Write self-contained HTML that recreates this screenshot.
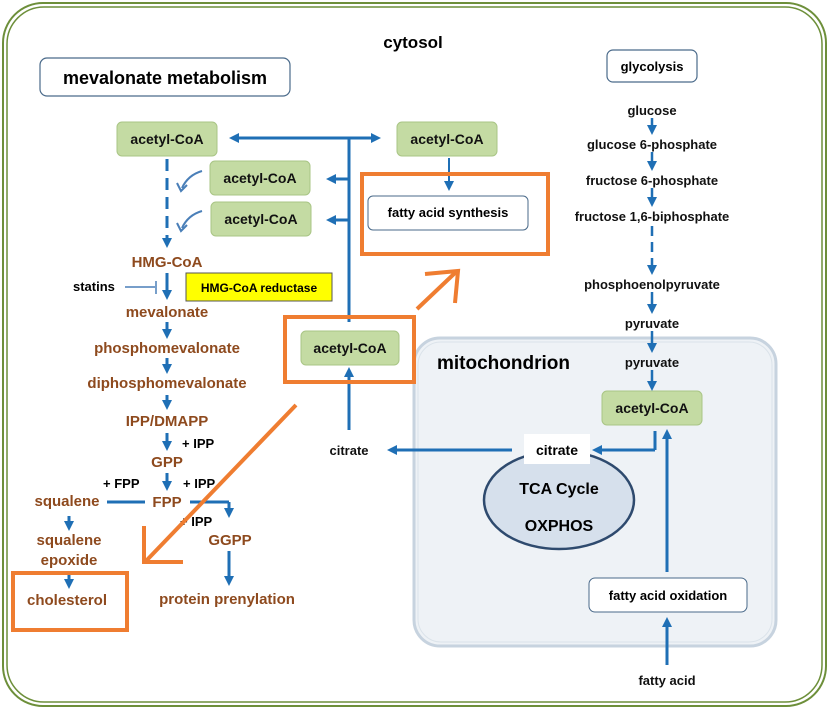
<!DOCTYPE html>
<html><head><meta charset="utf-8"><style>
body{margin:0;background:#fff}
svg text{font-family:"Liberation Sans",sans-serif;font-weight:bold}
</style></head><body>
<svg width="830" height="712" viewBox="0 0 830 712" xmlns="http://www.w3.org/2000/svg">
<defs>
<marker id="a" markerWidth="10" markerHeight="10" refX="7" refY="5" orient="auto" markerUnits="userSpaceOnUse"><path d="M0,0 L10,5 L0,10 Z" fill="#1f6fb5"/></marker>
</defs>
<rect x="3" y="3" width="823" height="703" rx="40" fill="#fff" stroke="#6d8f3a" stroke-width="2"/>
<rect x="7" y="7" width="815" height="695" rx="37" fill="none" stroke="#6d8f3a" stroke-width="1.5"/>
<text x="413" y="48" font-size="17" text-anchor="middle">cytosol</text>
<rect x="40" y="58" width="250" height="38" rx="7" fill="#fff" stroke="#4a6a8a" stroke-width="1.2"/>
<text x="165" y="84" font-size="18" text-anchor="middle">mevalonate metabolism</text>
<rect x="607" y="50" width="90" height="32" rx="6" fill="#fff" stroke="#4a6a8a" stroke-width="1.2"/>
<text x="652" y="71" font-size="13" font-weight="normal" text-anchor="middle">glycolysis</text>

<rect x="414" y="338" width="362" height="308" rx="26" fill="#eef2f6" stroke="#c7d3df" stroke-width="3"/>
<rect x="418" y="342" width="354" height="300" rx="23" fill="none" stroke="#dbe3ea" stroke-width="1"/>
<text x="437" y="369" font-size="19">mitochondrion</text>

<g fill="#c4dba3" stroke="#a9c585">
<rect x="117" y="122" width="100" height="34" rx="5"/>
<rect x="210" y="161" width="100" height="34" rx="5"/>
<rect x="211" y="202" width="100" height="34" rx="5"/>
<rect x="397" y="122" width="100" height="34" rx="5"/>
<rect x="301" y="331" width="98" height="34" rx="5"/>
<rect x="602" y="391" width="100" height="34" rx="5"/>
</g>
<g font-size="14" text-anchor="middle" fill="#111">
<text x="167" y="144">acetyl-CoA</text>
<text x="260" y="183">acetyl-CoA</text>
<text x="261" y="224">acetyl-CoA</text>
<text x="447" y="144">acetyl-CoA</text>
<text x="350" y="353">acetyl-CoA</text>
<text x="652" y="413">acetyl-CoA</text>
</g>

<rect x="368" y="196" width="160" height="34" rx="5" fill="#fff" stroke="#4a6a8a"/>
<text x="448" y="217" font-size="13" font-weight="normal" text-anchor="middle">fatty acid synthesis</text>
<rect x="186" y="273" width="146" height="28" fill="#ffff00" stroke="#555"/>
<text x="259" y="292" font-size="12" text-anchor="middle">HMG-CoA reductase</text>

<g stroke="#1f6fb5" stroke-width="3" fill="none">
<line x1="349" y1="138" x2="349" y2="322"/>
<line x1="349" y1="138" x2="232" y2="138" marker-end="url(#a)"/>
<line x1="349" y1="138" x2="378" y2="138" marker-end="url(#a)"/>
<line x1="349" y1="179" x2="329" y2="179" marker-end="url(#a)"/>
<line x1="349" y1="220" x2="329" y2="220" marker-end="url(#a)"/>
<line x1="167" y1="159" x2="167" y2="245" stroke-dasharray="12,7" marker-end="url(#a)"/>
<line x1="449" y1="158" x2="449" y2="188" stroke-width="2" marker-end="url(#a)"/>
<line x1="167" y1="273" x2="167" y2="297" marker-end="url(#a)"/>
<line x1="167" y1="322" x2="167" y2="336" marker-end="url(#a)"/>
<line x1="167" y1="358" x2="167" y2="371" marker-end="url(#a)"/>
<line x1="167" y1="395" x2="167" y2="407" marker-end="url(#a)"/>
<line x1="167" y1="433" x2="167" y2="448" marker-end="url(#a)"/>
<line x1="167" y1="473" x2="167" y2="488" marker-end="url(#a)"/>
<line x1="107" y1="502" x2="145" y2="502"/>
<line x1="190" y1="502" x2="229" y2="502"/>
<line x1="229" y1="502" x2="229" y2="515" marker-end="url(#a)"/>
<line x1="69" y1="516" x2="69" y2="528" marker-end="url(#a)"/>
<line x1="69" y1="573" x2="69" y2="586" marker-end="url(#a)"/>
<line x1="229" y1="551" x2="229" y2="583" marker-end="url(#a)"/>
<line x1="349" y1="430" x2="349" y2="370" marker-end="url(#a)"/>
<line x1="512" y1="450" x2="390" y2="450" marker-end="url(#a)"/>
<line x1="655" y1="431" x2="655" y2="450"/>
<line x1="655" y1="450" x2="595" y2="450" marker-end="url(#a)"/>
<line x1="667" y1="572" x2="667" y2="432" marker-end="url(#a)"/>
<line x1="667" y1="665" x2="667" y2="620" marker-end="url(#a)"/>
<line x1="652" y1="118" x2="652" y2="132" stroke-width="2.5" marker-end="url(#a)"/>
<line x1="652" y1="152" x2="652" y2="168" stroke-width="2.5" marker-end="url(#a)"/>
<line x1="652" y1="188" x2="652" y2="204" stroke-width="2.5" marker-end="url(#a)"/>
<line x1="652" y1="226" x2="652" y2="272" stroke-width="2.5" stroke-dasharray="10,6" marker-end="url(#a)"/>
<line x1="652" y1="292" x2="652" y2="311" stroke-width="2.5" marker-end="url(#a)"/>
<line x1="652" y1="331" x2="652" y2="350" stroke-width="2.5" marker-end="url(#a)"/>
<line x1="652" y1="370" x2="652" y2="388" stroke-width="2.5" marker-end="url(#a)"/>
</g>
<g stroke="#4a7fb8" stroke-width="2" fill="none">
<path d="M202,171 Q188,175 182,188"/><path d="M177,183 L181,191 L187,185"/>
<path d="M202,211 Q188,215 182,228"/><path d="M177,223 L181,231 L187,225"/>
<line x1="125" y1="287" x2="155" y2="287" stroke-width="1.5"/>
<line x1="156" y1="281" x2="156" y2="294" stroke-width="1.5"/>
</g>

<g fill="#8e4a1e" font-size="15" text-anchor="middle">
<text x="167" y="267">HMG-CoA</text>
<text x="167" y="317">mevalonate</text>
<text x="167" y="353">phosphomevalonate</text>
<text x="167" y="388">diphosphomevalonate</text>
<text x="167" y="426">IPP/DMAPP</text>
<text x="167" y="467">GPP</text>
<text x="167" y="507">FPP</text>
<text x="67" y="506">squalene</text>
<text x="69" y="545">squalene</text>
<text x="69" y="565">epoxide</text>
<text x="67" y="605">cholesterol</text>
<text x="230" y="545">GGPP</text>
<text x="227" y="604">protein prenylation</text>
</g>
<g font-size="13" fill="#000">
<text x="73" y="291">statins</text>
<text x="182" y="448">+ IPP</text>
<text x="103" y="488">+ FPP</text>
<text x="183" y="488">+ IPP</text>
<text x="180" y="526">+ IPP</text>
</g>
<g font-size="13" text-anchor="middle" fill="#111">
<text x="652" y="115">glucose</text>
<text x="652" y="149">glucose 6-phosphate</text>
<text x="652" y="185">fructose 6-phosphate</text>
<text x="652" y="221">fructose 1,6-biphosphate</text>
<text x="652" y="289">phosphoenolpyruvate</text>
<text x="652" y="328">pyruvate</text>
<text x="652" y="367">pyruvate</text>
<text x="349" y="455">citrate</text>
<text x="667" y="685">fatty acid</text>
</g>

<ellipse cx="559" cy="500" rx="75" ry="49" fill="#d6e0ec" stroke="#2e4a6e" stroke-width="2.5"/>
<rect x="524" y="434" width="66" height="30" fill="#fff"/>
<text x="557" y="455" font-size="14" text-anchor="middle">citrate</text>
<text x="559" y="494" font-size="16" text-anchor="middle">TCA Cycle</text>
<text x="559" y="531" font-size="16" text-anchor="middle">OXPHOS</text>
<rect x="589" y="578" width="158" height="34" rx="6" fill="#fff" stroke="#4a6a8a"/>
<text x="668" y="600" font-size="13" text-anchor="middle">fatty acid oxidation</text>

<g stroke="#ef7d31" stroke-width="4" fill="none">
<rect x="362" y="174" width="186" height="80"/>
<rect x="285" y="317" width="129" height="65"/>
<rect x="13" y="573" width="114" height="57"/>
<line x1="296" y1="405" x2="146" y2="561"/>
<polyline points="144,526 144,562 183,562"/>
<line x1="417" y1="309" x2="456" y2="272"/>
<polyline points="425,274 458,271 455,303"/>
</g>
</svg>
</body></html>
